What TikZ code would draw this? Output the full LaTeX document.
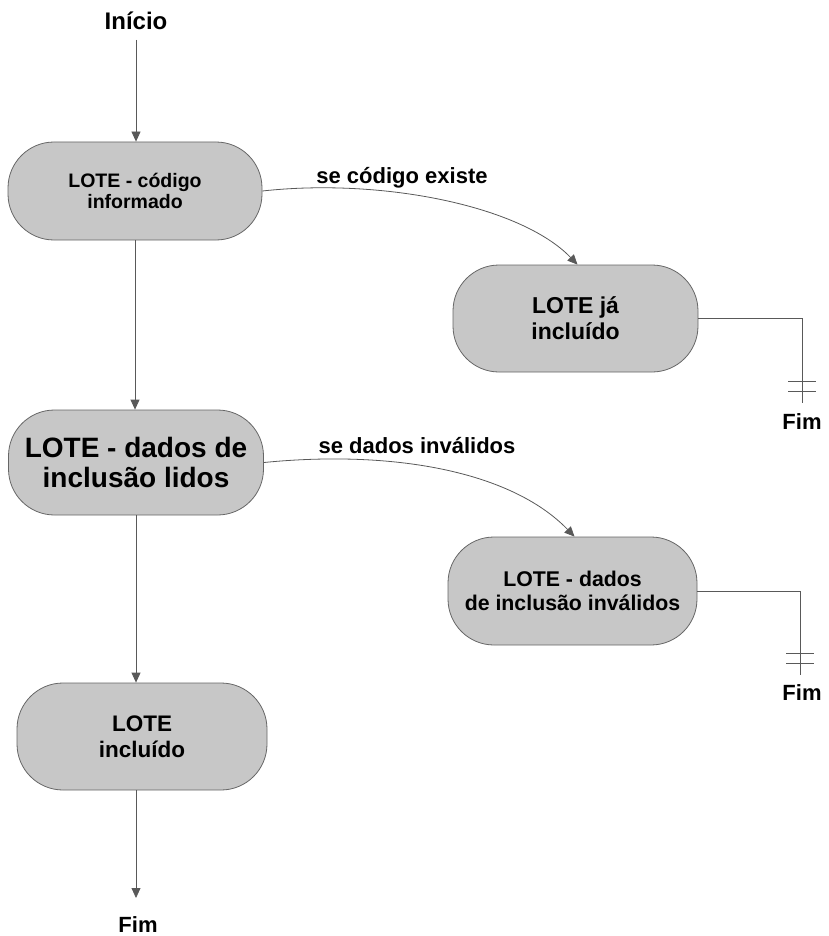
\documentclass[tikz,border=0pt]{standalone}
\usepackage{fontspec}
\setmainfont{Liberation Sans}
\usetikzlibrary{arrows.meta,calc}

\tikzset{
  state/.style={draw=black!60, line width=0.8pt, fill=black!22,
    rounded corners=46pt, align=center, inner sep=2pt,
    font=\bfseries},
  flow/.style={draw=black!65, line width=0.8pt,
    -{Triangle[length=10pt,width=9pt]}},
  plain/.style={draw=black!65, line width=0.8pt},
  term/.style={font=\fontsize{22}{24}\selectfont\bfseries, inner sep=0pt},
  guard/.style={font=\fontsize{22}{24}\selectfont\bfseries, inner sep=0pt, anchor=base}
}

\begin{document}
\begin{tikzpicture}[x=1pt,y=-1pt]
  \useasboundingbox (0,0) rectangle (829,936);

  % states
  \node[state, minimum width=254pt, minimum height=98pt,
        font=\fontsize{19.5}{21}\selectfont\bfseries] (n1) at (135,191)
        {LOTE - código\\informado};
  \node[state, minimum width=245pt, minimum height=107pt,
        font=\fontsize{23}{26}\selectfont\bfseries] (n2) at (575.5,318.5)
        {LOTE já\\incluído};
  \node[state, minimum width=255pt, minimum height=105pt,
        font=\fontsize{28}{30}\selectfont\bfseries] (n3) at (136,462.5)
        {LOTE - dados de\\inclusão lidos};
  \node[state, minimum width=249pt, minimum height=108pt,
        font=\fontsize{21.3}{24}\selectfont\bfseries] (n4) at (572.5,591)
        {LOTE - dados\\de inclusão inválidos};
  \node[state, minimum width=250pt, minimum height=107pt,
        font=\fontsize{22.5}{26}\selectfont\bfseries] (n5) at (142,736.5)
        {LOTE\\incluído};

  % start and end terminals
  \node[term, font=\fontsize{24}{26}\selectfont\bfseries] (ini) at (136,21) {Início};
  \node[term] (fim1) at (802,422) {Fim};
  \node[term] (fim2) at (802,693) {Fim};
  \node[term] (fim3) at (138,925) {Fim};

  % main sequence
  \draw[flow] (ini.south |- 0,40) -- (ini.south |- n1.north);
  \draw[flow] (n1.south) -- (n1.south |- n3.north);
  \draw[flow] (n3.south) -- (n3.south |- n5.north);
  \draw[flow] (n5.south -| n3.south) -- (n3.south |- 0,898);

  % conditional branches
  \draw[flow] (n1.east) .. controls (380,178) and (520,205) .. ([xshift=2pt]n2.north);
  \node[guard] (g1) at (402,183) {se código existe};
  \draw[flow] (n3.east) .. controls (390,450) and (510,470) .. ([xshift=2pt]n4.north);
  \node[guard] (g2) at (417,453) {se dados inválidos};

  % branch terminations
  \coordinate (e1) at (802,403);
  \draw[plain] (n2.east) -| (e1);
  \draw[plain] ($(e1)+(-14,-22)$) -- ++(28,0);
  \draw[plain] ($(e1)+(-14,-12)$) -- ++(28,0);

  \coordinate (e2) at (800,675);
  \draw[plain] (n4.east) -| (e2);
  \draw[plain] ($(e2)+(-14,-22)$) -- ++(28,0);
  \draw[plain] ($(e2)+(-14,-12)$) -- ++(28,0);
\end{tikzpicture}
\end{document}
